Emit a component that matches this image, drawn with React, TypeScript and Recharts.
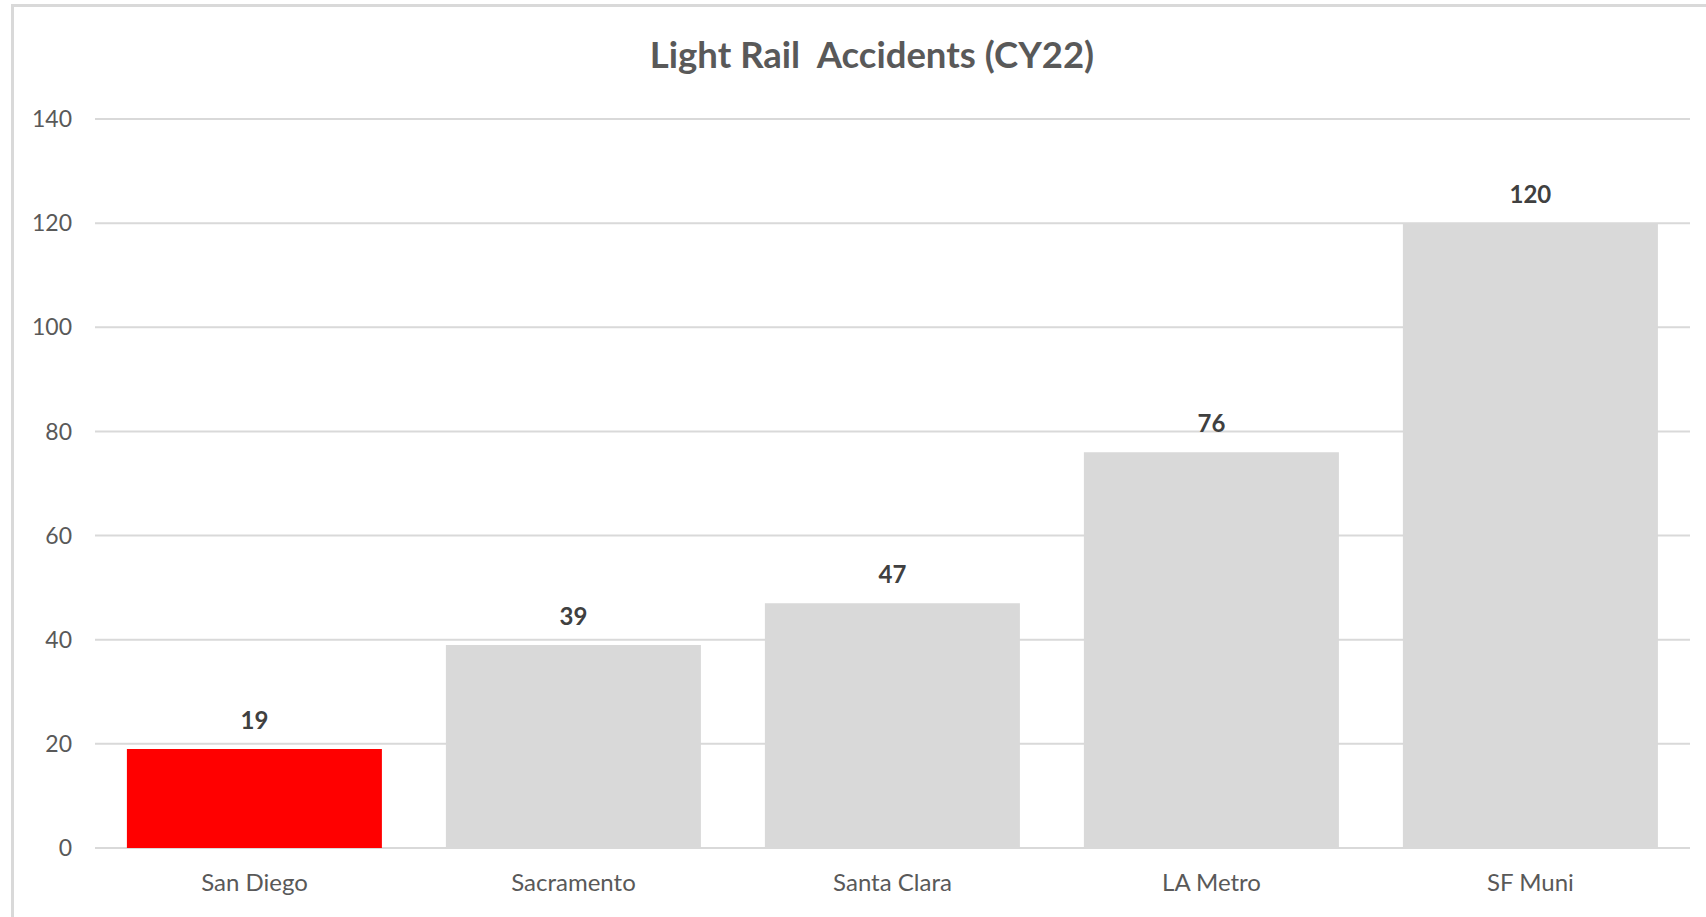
import { Bar, BarChart, CartesianGrid, Cell, LabelList, XAxis, YAxis } from "recharts";

const agencies = ["San Diego", "Sacramento", "Santa Clara", "LA Metro", "SF Muni"];
const accidents = [19, 39, 47, 76, 120];
const barColors = ["#ff0000", "#d9d9d9", "#d9d9d9", "#d9d9d9", "#d9d9d9"];
const yTicks = [0, 20, 40, 60, 80, 100, 120, 140];

const data = agencies.map((name, i) => ({ name, value: accidents[i] }));

const FONT = "Lato, 'Open Sans', sans-serif";

export default function App() {
  return (
    <div
      style={{
        position: "absolute",
        left: 0,
        top: 0,
        width: 1706,
        height: 917,
        background: "#fff",
        overflow: "hidden",
        fontFamily: FONT,
      }}
    >
      {/* chart frame */}
      <div
        style={{
          position: "absolute",
          left: 11,
          top: 4,
          right: -4,
          bottom: -4,
          borderLeft: "3px solid #d9d9d9",
          borderTop: "3px solid #d9d9d9",
        }}
      />
      <div
        style={{
          position: "absolute",
          left: 472,
          width: 800,
          top: 30,
          textAlign: "center",
          fontSize: 36.5,
          fontWeight: 700,
          color: "#595959",
          lineHeight: "48px",
        }}
      >
        Light Rail&nbsp; Accidents (CY22)
      </div>
      <div style={{ position: "absolute", left: 0, top: 0 }}>
        <BarChart
          width={1706}
          height={917}
          data={data}
          margin={{ top: 119, right: 16, bottom: 39, left: 12 }}
          barCategoryGap="10%"
        >
          <CartesianGrid vertical={false} stroke="#d9d9d9" strokeWidth={2} />
          <XAxis
            dataKey="name"
            height={30}
            axisLine={false}
            tickLine={false}
            tickSize={0}
            tickMargin={26}
            tick={{ fontSize: 24, fill: "#595959", fontFamily: FONT }}
          />
          <YAxis
            width={83}
            domain={[0, 140]}
            ticks={yTicks}
            axisLine={false}
            tickLine={false}
            tickSize={0}
            tickMargin={23}
            tick={{ fontSize: 23, fill: "#595959", fontFamily: FONT }}
          />
          <Bar dataKey="value" isAnimationActive={false}>
            {data.map((d, i) => (
              <Cell key={d.name} fill={barColors[i]} />
            ))}
            <LabelList
              dataKey="value"
              position="top"
              offset={20}
              style={{ fontSize: 24, fontWeight: 700, fill: "#404040", fontFamily: FONT }}
            />
          </Bar>
        </BarChart>
      </div>
    </div>
  );
}
